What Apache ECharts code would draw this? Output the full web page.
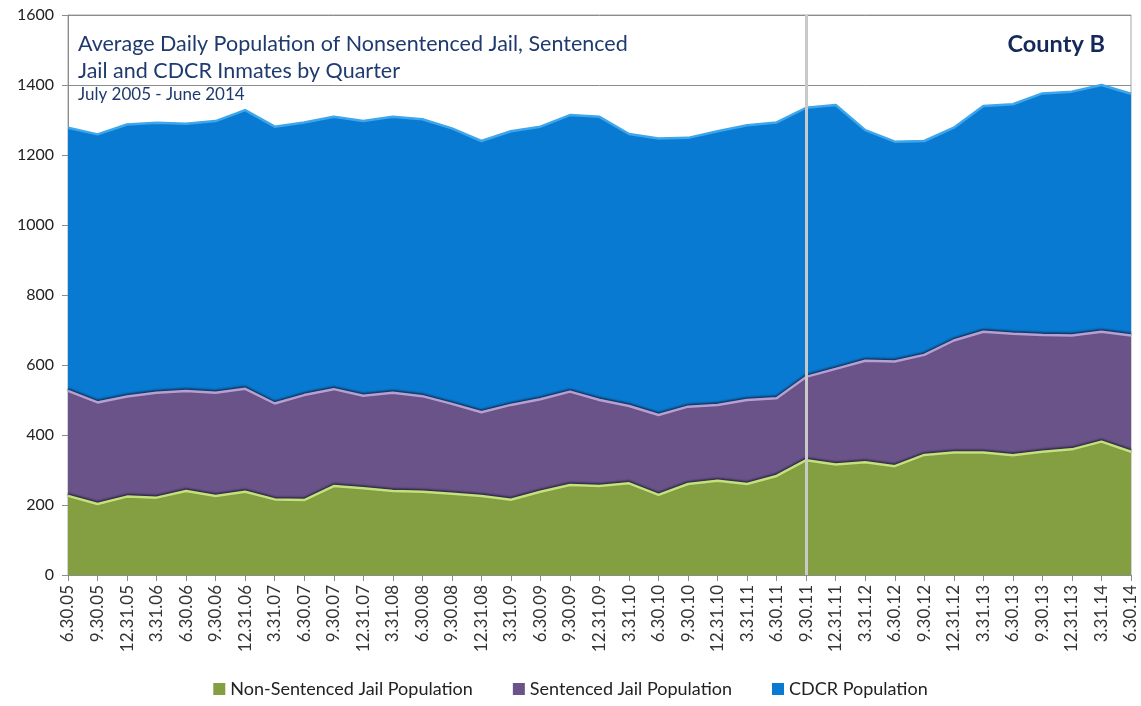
<!DOCTYPE html>
<html>
<head>
<meta charset="utf-8">
<script src="https://cdn.jsdelivr.net/npm/echarts@6/dist/echarts.min.js"></script>
<style>
html,body{margin:0;padding:0;background:#fff;}
#chart{width:1141px;height:706px;}
</style>
</head>
<body>
<div id="chart"></div>
<script>
var quarters = ['6.30.05','9.30.05','12.31.05','3.31.06','6.30.06','9.30.06','12.31.06','3.31.07','6.30.07','9.30.07','12.31.07','3.31.08','6.30.08','9.30.08','12.31.08','3.31.09','6.30.09','9.30.09','12.31.09','3.31.10','6.30.10','9.30.10','12.31.10','3.31.11','6.30.11','9.30.11','12.31.11','3.31.12','6.30.12','9.30.12','12.31.12','3.31.13','6.30.13','9.30.13','12.31.13','3.31.14','6.30.14'];
var nonSentenced = [226,203,224,221,240,226,238,216,214,254,248,240,238,232,226,215,238,257,254,262,229,260,269,260,283,328,316,322,311,343,350,350,342,352,359,381,352];
var sentenced = [300,290,286,300,286,295,294,274,300,277,264,281,273,257,239,271,264,267,246,221,228,221,217,240,222,238,273,290,299,286,320,345,347,334,325,314,332];
var cdcr = [752,766,777,771,763,776,796,791,779,778,785,788,791,787,775,782,779,790,809,777,790,768,782,785,788,769,754,659,628,611,608,645,656,690,697,705,691];
var yTicks = {min:0, max:1600, interval:200};
var markerQuarter = '9.30.11';

var chart = echarts.init(document.getElementById('chart'), null, {renderer:'canvas'});
function areaSeries(name, data, fill, edge, shadow){
  return {
    name: name, type:'line', stack:'total', data:data,
    symbol:'none', smooth:false,
    lineStyle: shadow ? {color:edge, width:2.5, shadowColor:'rgba(20,20,40,0.75)', shadowBlur:2, shadowOffsetY:-1.5}
                      : {color:edge, width:2.5},
    areaStyle:{color:fill, opacity:1},
    itemStyle:{color:fill},
    emphasis:{disabled:true}
  };
}
var s1 = areaSeries('Non-Sentenced Jail Population', nonSentenced, '#849e42', '#c4e27a', true);
var s2 = areaSeries('Sentenced Jail Population', sentenced, '#6a5388', '#b89fd2', true);
var s3 = areaSeries('CDCR Population', cdcr, '#087ad1', '#3ea6ec', false);
s3.markLine = {
  silent:true, symbol:'none', label:{show:false},
  lineStyle:{color:'#c9c9c9', width:3, type:'solid'},
  data:[{xAxis: markerQuarter}]
};
s3.z = 3;

chart.setOption({
  animation:false,
  backgroundColor:'#ffffff',
  title:[
    {text:'Average Daily Population of Nonsentenced Jail, Sentenced\nJail and CDCR Inmates by Quarter', left:78, top:31, padding:0,
     textStyle:{fontFamily:'Lato', fontWeight:'normal', fontSize:21.5, color:'#1f3a6e', lineHeight:27}},
    {text:'July 2005 - June 2014', left:78, top:86, padding:0,
     textStyle:{fontFamily:'Lato', fontWeight:'normal', fontSize:17, color:'#1f3a6e'}},
    {text:'County B', right:36, top:32, padding:0,
     textStyle:{fontFamily:'Lato', fontWeight:'bold', fontSize:23.5, color:'#14285a'}}
  ],
  legend:{
    bottom:3, left:'center', itemWidth:12, itemHeight:12, itemGap:40, icon:'rect',
    textStyle:{fontFamily:'Lato', fontSize:18, color:'#222'},
    data:['Non-Sentenced Jail Population','Sentenced Jail Population','CDCR Population']
  },
  grid:{left:68, right:10, top:15, bottom:131, show:true, borderColor:'#a6a6a6', borderWidth:1, backgroundColor:'transparent'},
  xAxis:{
    type:'category', data:quarters, boundaryGap:false,
    axisLine:{lineStyle:{color:'#8c8c8c', width:1}},
    axisTick:{show:true, interval:0, length:6, lineStyle:{color:'#8c8c8c'}},
    axisLabel:{interval:0, rotate:90, fontFamily:'Lato', fontSize:17, color:'#333', margin:10}
  },
  yAxis:{
    type:'value', min:yTicks.min, max:yTicks.max, interval:yTicks.interval,
    axisLine:{show:true, lineStyle:{color:'#8c8c8c'}},
    axisTick:{show:true, length:6, lineStyle:{color:'#8c8c8c'}},
    axisLabel:{fontFamily:'Lato', fontSize:16, color:'#222', margin:14, formatter:function(v){return String(v);}},
    splitLine:{show:true, lineStyle:{color:'#8c8c8c', width:1}}
  },
  series:[s1, s2, s3]
});
</script>
</body>
</html>
